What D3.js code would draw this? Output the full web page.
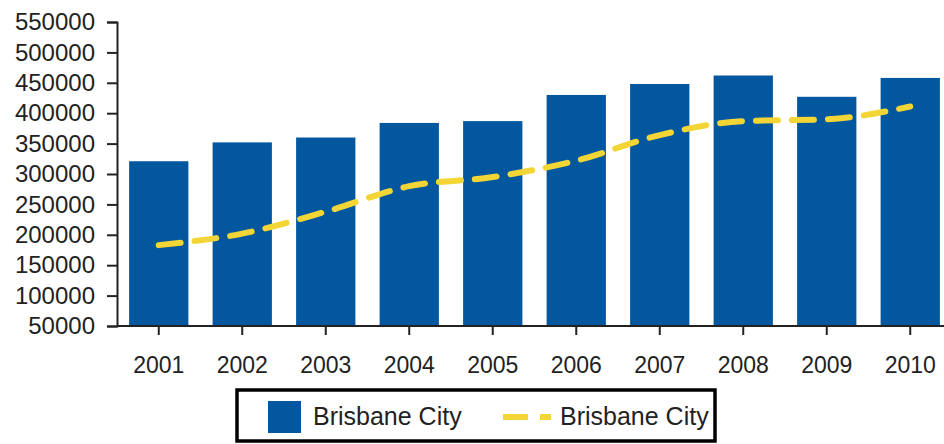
<!DOCTYPE html>
<html>
<head>
<meta charset="utf-8">
<script src="https://cdn.jsdelivr.net/npm/d3@7"></script>
<style>
  body { margin: 0; background: #fff; }
  svg { display: block; font-family: "Liberation Sans", Arial, sans-serif; }
</style>
</head>
<body>
<svg id="chart"></svg>
<script>
// chart values
var years = ["2001", "2002", "2003", "2004", "2005", "2006", "2007", "2008", "2009", "2010"];
var barValues = [321000, 352000, 360000, 384000, 387000, 430000, 448000, 462000, 427000, 458000];
var lineValues = [183000, 202000, 238000, 280000, 295000, 322000, 364000, 387000, 390000, 411000];
var yTicks = [50000, 100000, 150000, 200000, 250000, 300000, 350000, 400000, 450000, 500000, 550000];
var seriesName = "Brisbane City";

var width = 944, height = 444;
var barColor = "#03579f", lineColor = "#f3d535";

var svg = d3.select("#chart")
    .attr("width", width)
    .attr("height", height)

var xScale = d3.scaleBand()
    .domain(years)
    .range([117, 952])
    .paddingInner(0.29)
    .paddingOuter(0.145)

var yScale = d3.scaleLinear()
    .domain([50000, 550000])
    .range([326, 22])

// bars
svg.append("g")
    .selectAll("rect")
    .data(barValues)
    .enter()
    .append("rect")
    .attr("x", function (d, i) { return xScale(years[i]); })
    .attr("width", xScale.bandwidth())
    .attr("y", function (d) { return yScale(d); })
    .attr("height", function (d) { return yScale(50000) - yScale(d); })
    .attr("fill", barColor)

// dashed line
var line = d3.line()
    .x(function (d, i) { return xScale(years[i]) + xScale.bandwidth() / 2; })
    .y(function (d) { return yScale(d); })
    .curve(d3.curveMonotoneX)

svg.append("path")
    .datum(lineValues)
    .attr("d", line)
    .attr("fill", "none")
    .attr("stroke", lineColor)
    .attr("stroke-width", 6)
    .attr("stroke-linecap", "round")
    .attr("stroke-dasharray", "22,14")

// axes
var yAxis = d3.axisLeft(yScale)
    .tickValues(yTicks)
    .tickFormat(d3.format("d"))
    .tickSize(10)
    .tickPadding(12)

var gy = svg.append("g")
    .attr("transform", "translate(117,0)")
    .call(yAxis)

var xAxis = d3.axisBottom(xScale)
    .tickSize(9)
    .tickPadding(22)

var gx = svg.append("g")
    .attr("transform", "translate(0,326)")
    .call(xAxis)

gx.select(".domain").attr("d", "M117,0H944")

;[gx, gy].forEach(function (g) {
    g.selectAll("path, line").attr("stroke", "#222").attr("stroke-width", 2)
    g.selectAll("text")
        .attr("fill", "#222")
        .style("font-size", "23px")
        .style("font-family", "'Liberation Sans', Arial, sans-serif")
})
gy.selectAll("text").style("font-size", "24px")

// legend
var legend = svg.append("g")

legend.append("rect")
    .attr("x", 237)
    .attr("y", 390)
    .attr("width", 478)
    .attr("height", 51)
    .attr("fill", "#fff")
    .attr("stroke", "#000")
    .attr("stroke-width", 3.5)

legend.append("rect")
    .attr("x", 268)
    .attr("y", 401)
    .attr("width", 33)
    .attr("height", 32)
    .attr("fill", barColor)

legend.append("text")
    .attr("x", 313)
    .attr("y", 425)
    .attr("fill", "#222")
    .style("font-size", "25px")
    .text(seriesName)

legend.append("line")
    .attr("x1", 503)
    .attr("x2", 551)
    .attr("y1", 417)
    .attr("y2", 417)
    .attr("stroke", lineColor)
    .attr("stroke-width", 6)
    .attr("stroke-dasharray", "25,12")

legend.append("text")
    .attr("x", 560)
    .attr("y", 425)
    .attr("fill", "#222")
    .style("font-size", "25px")
    .text(seriesName)
</script>
</body>
</html>
